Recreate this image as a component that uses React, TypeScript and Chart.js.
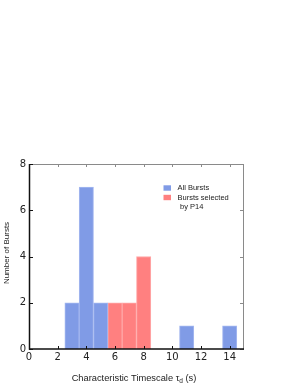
import React, { useEffect, useRef } from "react";
import { Chart, registerables } from "chart.js";

Chart.register(...registerables);

const allBurstBins = [3, 4, 5, 11, 14];
const allBurstCounts = [2, 7, 2, 1, 1];
const selectedBins = [6, 7, 8];
const selectedCounts = [2, 2, 4];
const xTickValues = [0, 2, 4, 6, 8, 10, 12, 14];
const yTickValues = [0, 2, 4, 6, 8];
const legendLabels = ["All Bursts", "Bursts selected"];
const legendSecondLine = "by P14";
const xTitleMain = "Characteristic Timescale τ";
const xTitleSub = "d";
const xTitleTail = " (s)";
const yTitle = "Number of Bursts";

const BLUE = "rgb(128,155,230)";
const BLUE_EDGE = "rgb(165,184,240)";
const RED = "rgb(255,128,128)";
const RED_EDGE = "rgb(255,168,168)";
const FONT = "'DejaVu Sans', sans-serif";
const TFONT = "'Liberation Sans', Arial, sans-serif";

const framePlugin = {
  id: "frame",
  afterDraw(chart: any) {
    const { ctx, chartArea } = chart;
    const { left, right, top, bottom } = chartArea;
    const xs = chart.scales.x;
    const ys = chart.scales.y;
    ctx.save();
    // top & right gray
    ctx.strokeStyle = "#8a8a8a";
    ctx.lineWidth = 1;
    ctx.beginPath();
    ctx.moveTo(left, top + 0.5);
    ctx.lineTo(right, top + 0.5);
    ctx.moveTo(right - 0.5, top);
    ctx.lineTo(right - 0.5, bottom);
    ctx.stroke();
    ctx.beginPath();
    xTickValues.forEach((v) => {
      const px = Math.round(xs.getPixelForValue(v)) + 0.5;
      ctx.moveTo(px, top);
      ctx.lineTo(px, top + 3);
    });
    yTickValues.forEach((v) => {
      const py = Math.round(ys.getPixelForValue(v)) + 0.5;
      ctx.moveTo(right, py);
      ctx.lineTo(right - 4, py);
    });
    ctx.stroke();
    // left & bottom black
    ctx.strokeStyle = "#111";
    ctx.lineWidth = 1.5;
    ctx.beginPath();
    ctx.moveTo(left + 0.5, top);
    ctx.lineTo(left + 0.5, bottom);
    ctx.lineTo(right, bottom);
    ctx.stroke();
    ctx.lineWidth = 1;
    ctx.beginPath();
    xTickValues.forEach((v) => {
      const px = Math.round(xs.getPixelForValue(v)) + 0.5;
      ctx.moveTo(px, bottom);
      ctx.lineTo(px, bottom - 3);
    });
    yTickValues.forEach((v) => {
      const py = Math.round(ys.getPixelForValue(v)) + 0.5;
      ctx.moveTo(left, py);
      ctx.lineTo(left + 4, py);
    });
    ctx.stroke();

    // x title with subscript
    ctx.fillStyle = "#222";
    ctx.textBaseline = "alphabetic";
    ctx.textAlign = "left";
    const mainFont = "9.3px " + TFONT;
    const subFont = "6.5px " + TFONT;
    ctx.font = mainFont;
    const w1 = ctx.measureText(xTitleMain).width;
    const w3 = ctx.measureText(xTitleTail).width;
    ctx.font = subFont;
    const w2 = ctx.measureText(xTitleSub).width;
    const total = w1 + w2 + w3;
    const cx = 134;
    const x0 = cx - total / 2;
    const base = 381;
    ctx.font = mainFont;
    ctx.fillText(xTitleMain, x0, base);
    ctx.font = subFont;
    ctx.fillText(xTitleSub, x0 + w1, base + 2);
    ctx.font = mainFont;
    ctx.fillText(xTitleTail, x0 + w1 + w2, base);

    // y title
    ctx.save();
    ctx.translate(6.5, 253);
    ctx.rotate(-Math.PI / 2);
    ctx.textAlign = "center";
    ctx.textBaseline = "middle";
    ctx.font = "8px " + TFONT;
    ctx.fillText(yTitle, 0, 0);
    ctx.restore();

    // legend
    ctx.font = "7.5px " + TFONT;
    ctx.textBaseline = "middle";
    ctx.textAlign = "left";
    const colors = [BLUE, RED];
    const rows = [188, 197.5];
    legendLabels.forEach((lab, i) => {
      ctx.fillStyle = colors[i];
      ctx.fillRect(163.5, rows[i] - 2.7, 7.5, 5.4);
      ctx.fillStyle = "#222";
      ctx.fillText(lab, 177.5, rows[i]);
    });
    ctx.fillText(legendSecondLine, 180, 206.7);
    ctx.restore();
  },
};

export default function App() {
  const ref = useRef<HTMLCanvasElement>(null);
  useEffect(() => {
    if (!ref.current) return;
    const chart = new Chart(ref.current, {
      type: "bar",
      data: {
        datasets: [
          {
            label: legendLabels[0],
            data: allBurstBins.map((x, i) => ({ x, y: allBurstCounts[i] })),
            backgroundColor: BLUE,
            borderColor: BLUE_EDGE,
            borderWidth: 1,
            grouped: false,
            barPercentage: 1,
            categoryPercentage: 1,
          } as any,
          {
            label: legendLabels[1],
            data: selectedBins.map((x, i) => ({ x, y: selectedCounts[i] })),
            backgroundColor: RED,
            borderColor: RED_EDGE,
            borderWidth: 1,
            grouped: false,
            barPercentage: 1,
            categoryPercentage: 1,
          } as any,
        ],
      },
      options: {
        animation: false,
        responsive: false,
        maintainAspectRatio: false,
        layout: { padding: { left: 0, top: 164, right: 54, bottom: 0 } },
        plugins: { legend: { display: false }, tooltip: { enabled: false } },
        scales: {
          x: {
            type: "linear",
            min: 0,
            max: 15,
            offset: false,
            grid: { display: false, drawTicks: false },
            border: { display: false },
            afterBuildTicks: (s: any) => {
              s.ticks = xTickValues.map((v) => ({ value: v }));
            },
            afterFit: (s: any) => {
              s.height = 36;
            },
            ticks: {
              color: "#222",
              font: { family: FONT, size: 10 },
              padding: 2,
              maxRotation: 0,
              autoSkip: false,
            },
          },
          y: {
            type: "linear",
            min: 0,
            max: 8,
            grid: { display: false, drawTicks: false },
            border: { display: false },
            afterBuildTicks: (s: any) => {
              s.ticks = yTickValues.map((v) => ({ value: v }));
            },
            afterFit: (s: any) => {
              s.width = 29;
            },
            ticks: {
              color: "#222",
              font: { family: FONT, size: 10 },
              padding: 3,
            },
          },
        },
      },
      plugins: [framePlugin],
    });
    return () => chart.destroy();
  }, []);
  return (
    <div style={{ position: "fixed", left: 0, top: 0, width: 298, height: 385 }}>
      <canvas ref={ref} width={298} height={385} style={{ width: 298, height: 385 }} />
    </div>
  );
}
